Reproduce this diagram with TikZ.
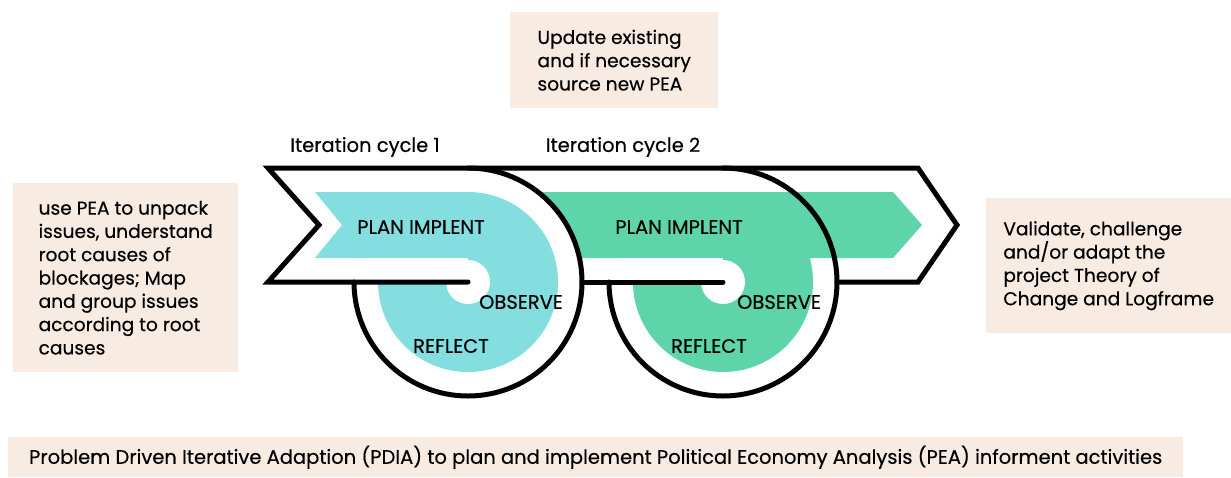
\documentclass[tikz,border=0pt]{standalone}
\usepackage{fontspec}
\setmainfont{Poppins}[FakeBold=0.4]
\usetikzlibrary{positioning,calc}

\definecolor{peach}{HTML}{F8EBE2}
\definecolor{loopcyan}{HTML}{84DEE0}
\definecolor{loopgreen}{HTML}{5DD4AA}

\begin{document}
\begin{tikzpicture}[x=1pt,y=1pt,node distance=258pt,
                    note/.style={fill=peach,draw=none,align=left,inner sep=0pt,
                                 anchor=north west,font=\fontsize{18.6}{23.3}\selectfont},
                    tag/.style={font=\fontsize{19.5}{22}\selectfont},
                    rim/.style={draw=black,line width=5pt,line cap=round,line join=miter}]

  \useasboundingbox (0,0) rectangle (1231,-477);

  \coordinate (c1) at (468,-282);
  \coordinate (c2) at (723,-282);

  % second loop, green
  \fill[loopgreen] (490,-192) -- (893,-192) -- (922,-225) -- (893,-258) -- (490,-258) -- cycle;
  \fill[loopgreen] (c2) circle[radius=90pt];
  \fill[white] ($(c2)+(-100,0)$) rectangle ($(c2)+(0,24)$);
  \fill[white] (c2) circle[radius=22pt];

  % first loop lies over the start of the green band
  \fill[white] (c1) circle[radius=114pt];
  \fill[loopcyan] (315,-192) -- (468,-192) -- (468,-258) -- (315,-258) -- (342,-225) -- cycle;
  \fill[loopcyan] (c1) circle[radius=90pt];
  \fill[white] ($(c1)+(-100,0)$) rectangle ($(c1)+(0,24)$);
  \fill[white] (c1) circle[radius=22pt];

  % black outline
  \draw[rim] (c1) -- (268,-282) -- (319,-225) -- (268,-168) -- (918,-168)
             -- (957,-225) -- (918,-282) -- ($(c2)+(114,0)$);
  \draw[rim] ($(c1)+(0,114)$) arc[start angle=90,end angle=-180,radius=114pt];
  \draw[rim] ($(c2)+(0,114)$) arc[start angle=90,end angle=-180,radius=114pt];
  \draw[rim] ($(c1)+(114,0)$) -- (c2);

  \node[tag] (iter1) at (365,-147) {Iteration cycle 1};
  \node[tag] (iter2) [right of=iter1] {Iteration cycle 2};
  \node[tag] (plan1) at (421,-227) {PLAN IMPLENT};
  \node[tag] (plan2) [right of=plan1] {PLAN IMPLENT};
  \node[tag] (obs1) at (521,-302) {OBSERVE};
  \node[tag] (obs2) [right of=obs1] {OBSERVE};
  \node[tag] (ref1) at (451,-346) {REFLECT};
  \node[tag] (ref2) [right of=ref1] {REFLECT};

  \node[note,minimum width=225pt,minimum height=189pt] (issues) at (13,-183)
       {use PEA to unpack\\issues, understand\\root causes of\\blockages; Map\\and group issues\\according to root\\causes};
  \node[note,minimum width=208pt,minimum height=96pt] (update) at (510,-12)
       {Update existing\\and if necessary\\source new PEA};
  \node[note,minimum width=245pt,minimum height=135pt] (validate) at (986,-198)
       {Validate, challenge\\and/or adapt the\\project Theory of\\Change and Logframe};
  \node[note,minimum width=1175pt,minimum height=40pt,font=\fontsize{19.5}{22}\selectfont] (pdia) at (8,-437)
       {Problem Driven Iterative Adaption (PDIA) to plan and implement Political Economy Analysis (PEA) informent activities};
\end{tikzpicture}
\end{document}
